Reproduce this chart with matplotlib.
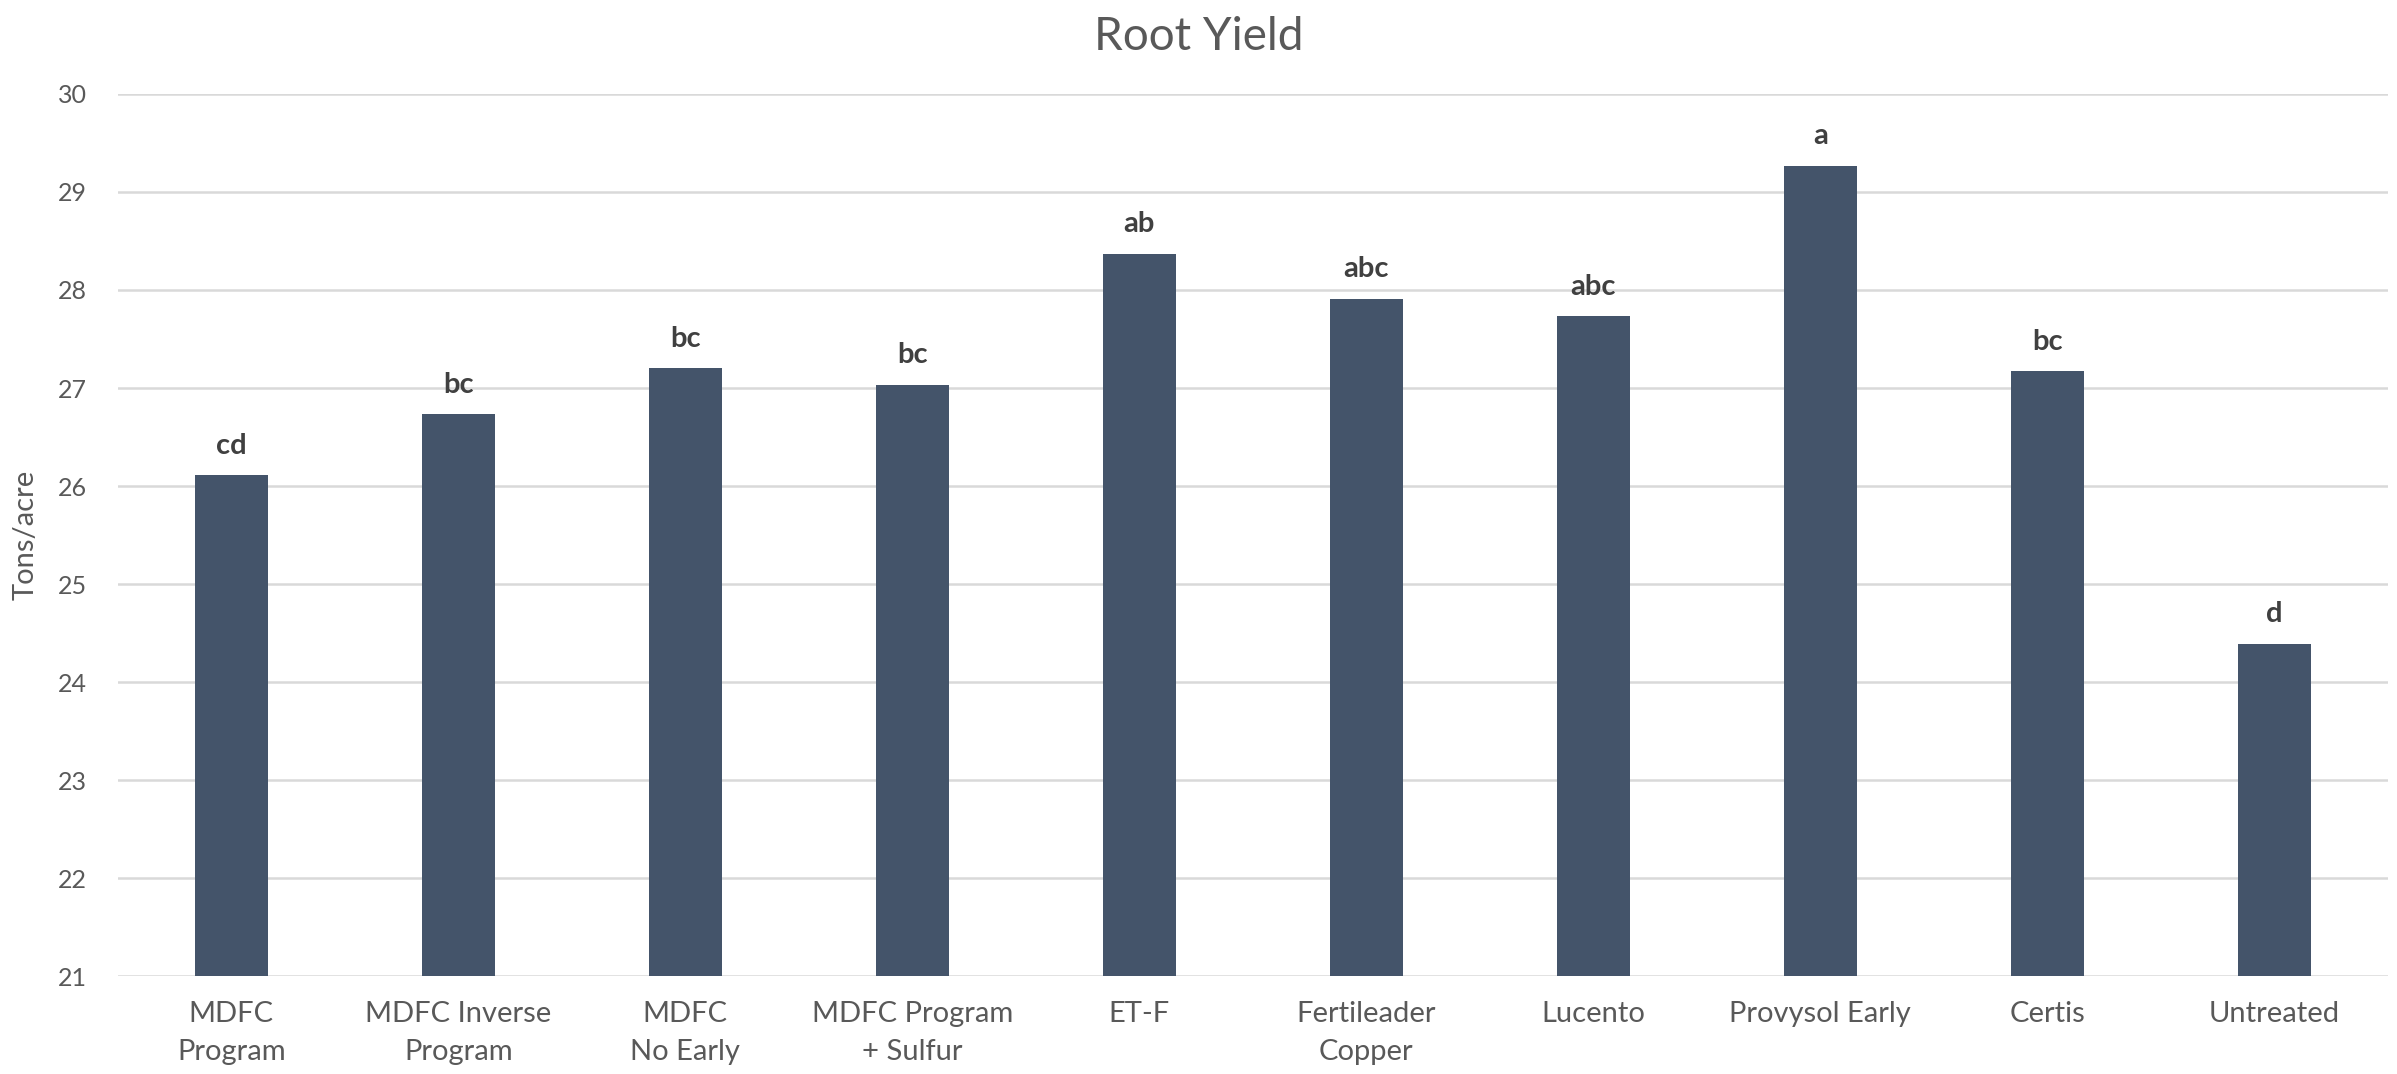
import matplotlib
matplotlib.use("Agg")
import matplotlib.pyplot as plt

# treatments and mean root yield (tons/acre), letters = significance groups
treatments = ["MDFC\nProgram", "MDFC Inverse\nProgram", "MDFC\nNo Early",
              "MDFC Program\n+ Sulfur", "ET-F", "Fertileader\nCopper",
              "Lucento", "Provysol Early", "Certis", "Untreated"]
yields = [26.11, 26.73, 27.20, 27.03, 28.37, 27.91, 27.73, 29.27, 27.17, 24.39]
letters = ["cd", "bc", "bc", "bc", "ab", "abc", "abc", "a", "bc", "d"]
yticks = [21, 22, 23, 24, 25, 26, 27, 28, 29, 30]

plt.rcParams['font.family'] = ['Lato', 'DejaVu Sans']

fig = plt.figure(figsize=(23.97, 10.74), dpi=100)
ax = fig.add_axes([0.0491, 0.0912, 0.9471, 0.8213])

x = range(len(treatments))
ax.bar(x, yields, width=0.32, color="#44546A", zorder=3)

for i, (v, lab) in enumerate(zip(yields, letters)):
    ax.annotate(lab, (i, v), xytext=(0, 12), textcoords="offset points",
                ha="center", va="bottom", fontsize=21, fontweight="bold",
                color="#404040")

ax.set_ylim(21, 30)
ax.set_xlim(-0.5, len(treatments) - 0.5)
ax.set_yticks(yticks)
ax.set_xticks(list(x))
ax.set_xticklabels(treatments, fontsize=21, color="#595959", linespacing=1.55)
ax.tick_params(axis="y", labelsize=18, labelcolor="#595959", length=0, pad=22)
ax.tick_params(axis="x", length=0, pad=18)
ax.yaxis.grid(True, color="#d9d9d9", linewidth=1.8, zorder=0)
for s in ax.spines.values():
    s.set_visible(False)

ax.set_ylabel("Tons/acre", fontsize=21, color="#595959", labelpad=14)
fig.suptitle("Root Yield", x=0.5, y=0.985, va="top", fontsize=33, color="#595959")

fig.savefig("out.png", dpi=100)
